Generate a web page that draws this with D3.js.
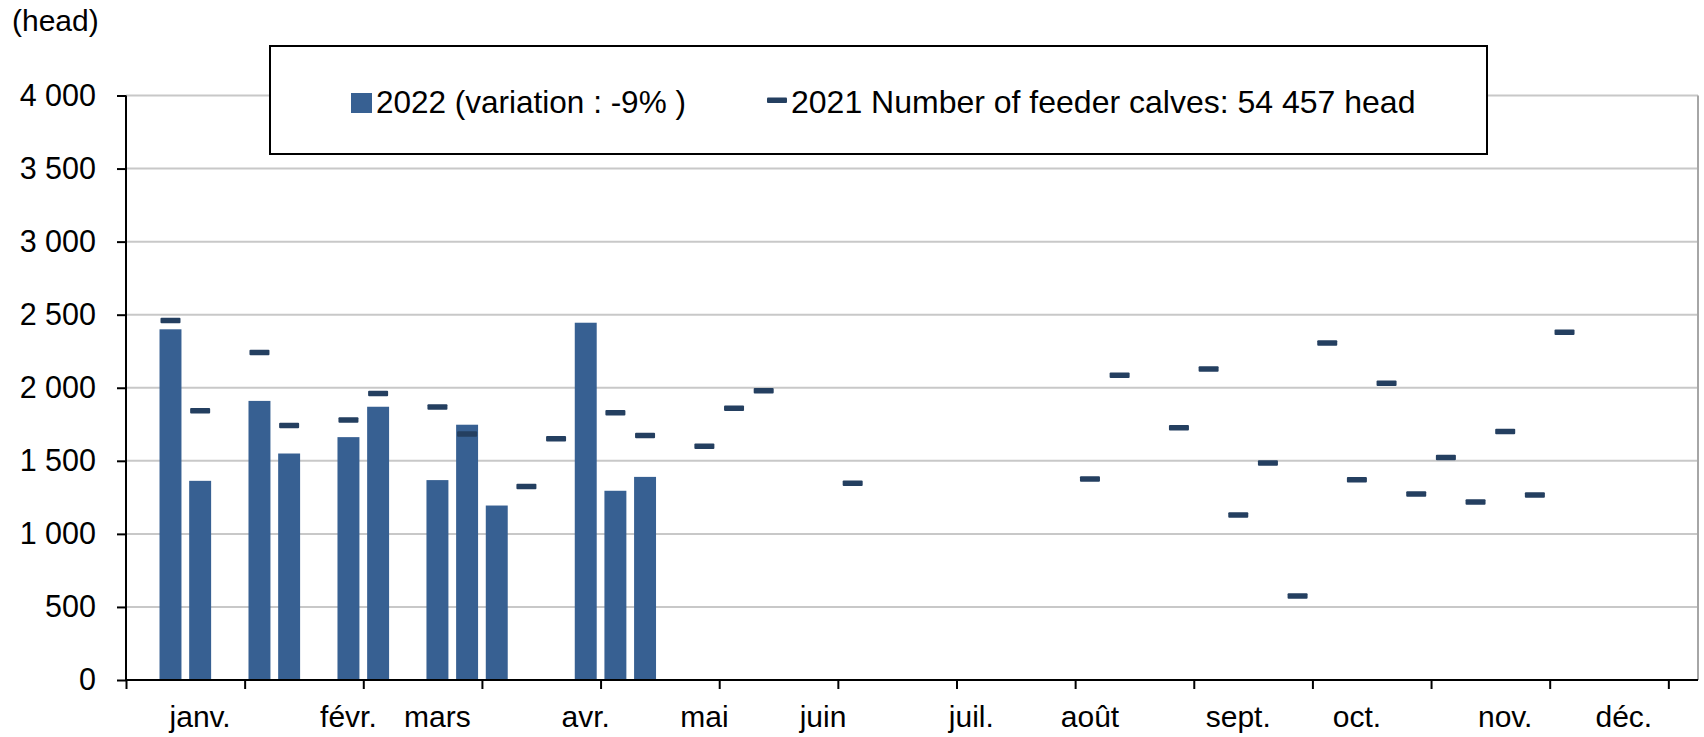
<!DOCTYPE html>
<html>
<head>
<meta charset="utf-8">
<script src="https://cdn.jsdelivr.net/npm/d3@7"></script>
<style>
  html, body { margin: 0; padding: 0; background: #fff; }
  svg { display: block; }
  text { font-family: "Liberation Sans", Arial, sans-serif; fill: #000; }
</style>
</head>
<body>
<div id="chart"></div>
<script>
// ---- data ----
const weeks = ["S1","S2","S3","S4","S5","S6","S7","S8","S9","S10","S11","S12","S13","S14","S15","S16","S17","S18","S19","S20","S21","S22","S23","S24","S25","S26","S27","S28","S29","S30","S31","S32","S33","S34","S35","S36","S37","S38","S39","S40","S41","S42","S43","S44","S45","S46","S47","S48","S49","S50","S51","S52","S53"];
const monthLabels = ["","","janv.","","","","","févr.","","","mars","","","","","avr.","","","","mai","","","","juin","","","","","juil.","","","","août","","","","","sept.","","","","oct.","","","","","nov.","","","","déc.","",""];
const values2022 = [null,2400,1363,null,1910,1550,null,1662,1870,null,1368,1747,1194,null,null,2445,1295,1390,null,null,null,null,null,null,null,null,null,null,null,null,null,null,null,null,null,null,null,null,null,null,null,null,null,null,null,null,null,null,null,null,null,null,null];
const values2021 = [null,2460,1842,null,2242,1742,null,1779,1961,null,1868,1683,null,1324,1651,null,1829,1674,null,1600,1859,1980,null,null,1347,null,null,null,null,null,null,null,1376,2085,null,1727,2128,1129,1485,575,2306,1371,2030,1273,1522,1218,1700,1266,2379,null,null,null,null];
const yTicks = [0,500,1000,1500,2000,2500,3000,3500,4000];
const xTickWeeks = [0,4,8,12,16,20,24,28,32,36,40,44,48,52];
const unitLabel = "(head)";
const legend2022 = "2022 (variation : -9% )";
const legend2021 = "2021 Number of feeder calves: 54 457 head";

// ---- layout ----
const W = 1704, H = 737;
const pLeft = 126, pRight = 1698, pTop = 95.5, pBottom = 680;

const svg = d3.select("#chart").append("svg").attr("width", W).attr("height", H);

const y = d3.scaleLinear().domain([0, 4000]).range([pBottom, pTop]);
const xBand = d3.scaleBand().domain(weeks).range([pLeft, pRight]).paddingInner(0.26).paddingOuter(0.13);
const xLin = d3.scaleLinear().domain([0, weeks.length]).range([pLeft, pRight]);

const fmt = v => d3.format(",")(v).replace(/,/g, " ");

// gridlines
svg.append("g").selectAll("line").data(yTicks.filter(d => d > 0)).join("line")
  .attr("x1", pLeft).attr("x2", pRight)
  .attr("y1", d => y(d)).attr("y2", d => y(d))
  .attr("stroke", "#c8c8c8").attr("stroke-width", 2);

// right plot border
svg.append("line").attr("x1", pRight).attr("x2", pRight).attr("y1", y(4000)).attr("y2", pBottom)
  .attr("stroke", "#a6a6a6").attr("stroke-width", 2);

// bars 2022
svg.append("g").selectAll("rect")
  .data(weeks.map((w, i) => ({w, v: values2022[i]})).filter(d => d.v != null))
  .join("rect")
  .attr("x", d => xBand(d.w)).attr("width", xBand.bandwidth())
  .attr("y", d => y(d.v)).attr("height", d => y(0) - y(d.v))
  .attr("fill", "#376092");

// dashes 2021
const dashW = 20, dashH = 5.5;
svg.append("g").selectAll("rect")
  .data(weeks.map((w, i) => ({w, v: values2021[i]})).filter(d => d.v != null))
  .join("rect")
  .attr("x", d => xBand(d.w) + xBand.bandwidth() / 2 - dashW / 2).attr("width", dashW)
  .attr("y", d => y(d.v) - dashH / 2).attr("height", dashH)
  .attr("rx", 1)
  .attr("fill", "#243f60");

// y axis
const yAxis = svg.append("g").attr("transform", `translate(${pLeft},0)`)
  .call(d3.axisLeft(y).tickValues(yTicks).tickSize(9).tickPadding(21).tickFormat(fmt));
yAxis.select(".domain").attr("stroke", "#000").attr("stroke-width", 2).attr("d", `M0,${pTop}V${pBottom}`);
yAxis.selectAll(".tick line").attr("stroke", "#000").attr("stroke-width", 2);
yAxis.selectAll(".tick text").attr("font-size", 30.5).attr("font-family", "'Liberation Sans', Arial, sans-serif").attr("fill", "#000");

// x axis
const xAxis = svg.append("g").attr("transform", `translate(0,${pBottom})`)
  .call(d3.axisBottom(xLin).tickValues(xTickWeeks).tickSize(9).tickFormat(""));
xAxis.select(".domain").attr("stroke", "#000").attr("stroke-width", 2).attr("d", `M${pLeft},0H${pRight}`);
xAxis.selectAll(".tick line").attr("stroke", "#000").attr("stroke-width", 2);

svg.append("g").selectAll("text")
  .data(weeks.map((w, i) => ({w, t: monthLabels[i]})).filter(d => d.t))
  .join("text")
  .attr("x", d => xBand(d.w) + xBand.bandwidth() / 2)
  .attr("y", 727)
  .attr("text-anchor", "middle")
  .attr("font-size", 30)
  .text(d => d.t);

// unit label
svg.append("text").attr("x", 12).attr("y", 31).attr("font-size", 30).text(unitLabel);

// legend
svg.append("rect").attr("x", 270).attr("y", 46).attr("width", 1217).attr("height", 108)
  .attr("fill", "#fff").attr("stroke", "#000").attr("stroke-width", 2);
svg.append("rect").attr("x", 351).attr("y", 93).attr("width", 21).attr("height", 20).attr("fill", "#376092");
svg.append("text").attr("x", 376).attr("y", 113).attr("font-size", 31.5).text(legend2022);
svg.append("rect").attr("x", 767).attr("y", 97.5).attr("width", 20).attr("height", 5.5).attr("rx", 1).attr("fill", "#243f60");
svg.append("text").attr("x", 791).attr("y", 113).attr("font-size", 32).text(legend2021);
</script>
</body>
</html>
